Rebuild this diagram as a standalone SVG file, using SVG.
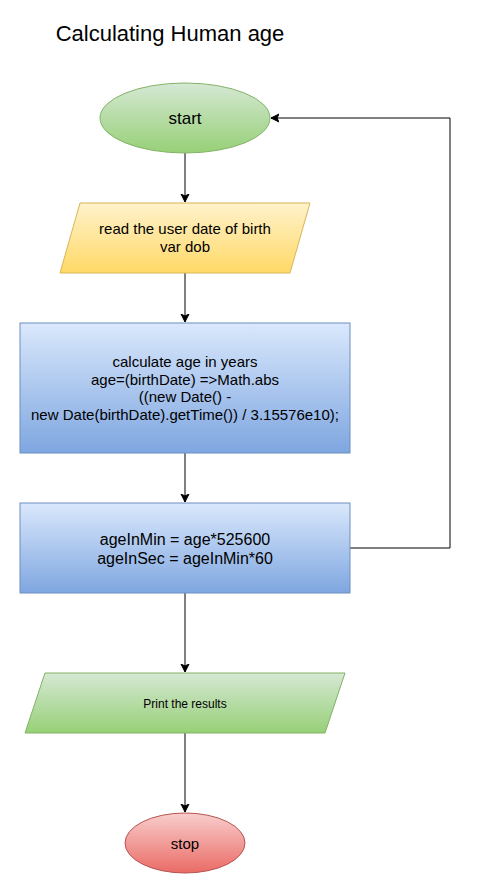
<svg xmlns="http://www.w3.org/2000/svg" width="479" height="894" viewBox="0 0 479 894">
<style>
text{font-family:"Liberation Sans",Arial,sans-serif;fill:#000;text-anchor:middle}
.c{fill:none;stroke:#000;stroke-width:1}
</style>
<defs>
<linearGradient id="gG" x1="0" y1="0" x2="0" y2="1"><stop offset="0" stop-color="#d5e8d4"/><stop offset="1" stop-color="#97d077"/></linearGradient>
<linearGradient id="gY" x1="0" y1="0" x2="0" y2="1"><stop offset="0" stop-color="#fff2cc"/><stop offset="1" stop-color="#ffd966"/></linearGradient>
<linearGradient id="gB" x1="0" y1="0" x2="0" y2="1"><stop offset="0" stop-color="#dae8fc"/><stop offset="1" stop-color="#7ea6e0"/></linearGradient>
<linearGradient id="gR" x1="0" y1="0" x2="0" y2="1"><stop offset="0" stop-color="#f8cecc"/><stop offset="1" stop-color="#ea6b66"/></linearGradient>
<marker id="ah" markerWidth="10" markerHeight="10" refX="8" refY="4" orient="auto" markerUnits="userSpaceOnUse" viewBox="0 0 10 8"><path d="M0,0 L8,4 L0,8 L2,4 Z" fill="#000" stroke="#000" stroke-width="1"/></marker>
</defs>
<text x="170" y="41" style="font-size:22px">Calculating Human age</text>
<g id="connectors">
<path class="c" d="M185,153 V202" marker-end="url(#ah)"/>
<path class="c" d="M185,273 V322" marker-end="url(#ah)"/>
<path class="c" d="M185,453 V502" marker-end="url(#ah)"/>
<path class="c" d="M185,593 V672" marker-end="url(#ah)"/>
<path class="c" d="M185,733 V812" marker-end="url(#ah)"/>
<path class="c" d="M350,548 H450 V118 H271" marker-end="url(#ah)"/>
</g>
<g id="start">
<ellipse cx="185" cy="118" rx="85" ry="35" fill="url(#gG)" stroke="#82b366"/>
<text x="185" y="124" style="font-size:17px">start</text>
</g>
<g id="read">
<polygon points="80,203 310,203 290,273 60,273" fill="url(#gY)" stroke="#d6b656"/>
<text x="185" y="234" style="font-size:15px">read the user date of birth</text>
<text x="185" y="252" style="font-size:15px">var dob</text>
</g>
<g id="calc">
<rect x="20" y="323" width="330" height="130" fill="url(#gB)" stroke="#6c8ebf"/>
<text x="185" y="367" style="font-size:15px">calculate age in years</text>
<text x="185" y="385" style="font-size:15px">age=(birthDate) =&gt;Math.abs</text>
<text x="185" y="402" style="font-size:15px">((new Date() -</text>
<text x="185" y="420" style="font-size:15px">new Date(birthDate).getTime()) / 3.15576e10);</text>
</g>
<g id="convert">
<rect x="20" y="503" width="330" height="90" fill="url(#gB)" stroke="#6c8ebf"/>
<text x="185" y="545" style="font-size:16px">ageInMin = age*525600</text>
<text x="185" y="564" style="font-size:16px">ageInSec = ageInMin*60</text>
</g>
<g id="print">
<polygon points="45,673 345,673 325,733 25,733" fill="url(#gG)" stroke="#82b366"/>
<text x="185" y="708" style="font-size:12px">Print the results</text>
</g>
<g id="stop">
<ellipse cx="185" cy="843" rx="60" ry="30" fill="url(#gR)" stroke="#b85450"/>
<text x="185" y="849" style="font-size:15px">stop</text>
</g>
</svg>
